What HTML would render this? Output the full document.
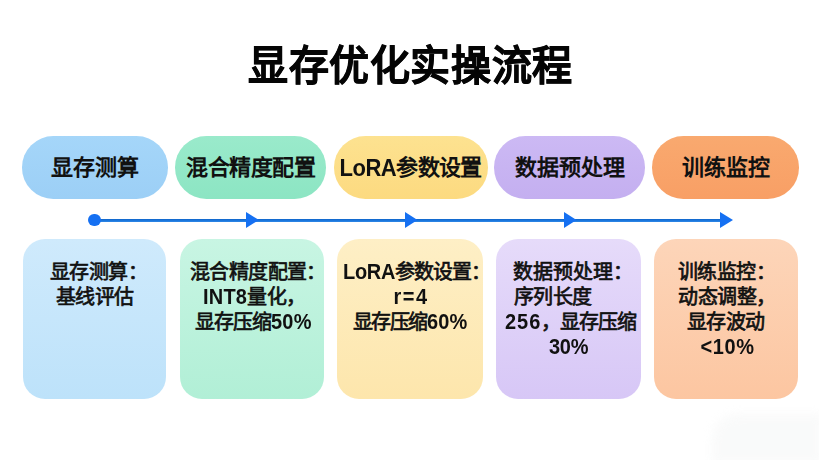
<!DOCTYPE html>
<html lang="zh-CN">
<head>
<meta charset="utf-8">
<style>
html,body{margin:0;padding:0;}
body{width:819px;height:460px;overflow:hidden;background:#fff;position:relative;font-family:"Liberation Sans",sans-serif;color:#111;}
.title{position:absolute;left:1px;width:819px;top:37.5px;text-align:center;font-size:40px;letter-spacing:0.65px;font-weight:700;line-height:56px;transform:scaleY(1.03);transform-origin:50% 50%;color:#050505;-webkit-text-stroke:0.6px #050505;}
.pill{position:absolute;top:136px;height:62.6px;border-radius:31.3px;}
.pt{position:absolute;top:137px;height:62px;line-height:62px;font-size:22px;font-weight:700;white-space:nowrap;-webkit-text-stroke:0;}
.box{position:absolute;top:239px;height:159.5px;border-radius:22px;}
.l{position:absolute;font-size:20px;font-weight:400;line-height:25px;white-space:nowrap;-webkit-text-stroke:0.7px #111;}
.line{position:absolute;left:94px;top:219px;width:628px;height:2.7px;background:linear-gradient(#0f64c8,#1a76dc,#3088e6);}
.dot{position:absolute;left:88.4px;top:214.1px;width:12.4px;height:12.4px;border-radius:50%;background:#1570f2;}
.e{display:inline-block;font-size:20px;font-weight:700;-webkit-text-stroke:0;letter-spacing:0.2px;transform:scaleY(1.12);transform-origin:50% 78%;}
.p{font-style:normal;font-size:20px;font-weight:700;-webkit-text-stroke:0;margin-left:2px;}
</style>
</head>
<body>
<div style="position:absolute;left:712px;top:414px;width:110px;height:50px;border-radius:26px 0 0 0;background:#f6f7f7;filter:blur(5px);opacity:0.6"></div>
<div class="title">显存优化实操流程</div>

<div class="pill" style="left:21.5px;width:146.3px;background:linear-gradient(#a5d6f9,#9ccff6)"></div>
<div class="pill" style="left:175px;width:151.4px;background:linear-gradient(#9aeacb,#8ce5c3)"></div>
<div class="pill" style="left:334px;width:154px;background:linear-gradient(#fde290,#fcda80)"></div>
<div class="pill" style="left:494px;width:151px;background:linear-gradient(#ccb9f4,#c4aff0)"></div>
<div class="pill" style="left:652px;width:146.5px;background:linear-gradient(#f9a96f,#f89f65)"></div>

<div class="pt" style="left:51px">显存测算</div>
<div class="pt" style="left:186px;letter-spacing:-0.4px">混合精度配置</div>
<div class="pt" style="left:339.5px;letter-spacing:-0.6px"><span style="display:inline-block;letter-spacing:-0.5px;transform:scaleY(1.1);transform-origin:50% 62%;position:relative;top:0.8px">LoRA</span>参数设置</div>
<div class="pt" style="left:515px">数据预处理</div>
<div class="pt" style="left:682px">训练监控</div>

<div class="line"></div>
<div class="dot"></div>
<svg style="position:absolute;left:0;top:0" width="819" height="460">
<polygon points="246,212 246,228 259,220" fill="#1570f2"/>
<polygon points="405,212 405,228 417.5,220" fill="#1570f2"/>
<polygon points="564,212 564,228 576.5,220" fill="#1570f2"/>
<polygon points="720,212 720,228 733,220" fill="#1570f2"/>
</svg>

<div class="box" style="left:22.5px;width:143.5px;background:linear-gradient(#cfeafc,#bde2fa)"></div>
<div class="box" style="left:179.5px;width:144.5px;background:linear-gradient(#c8f5e3,#b1efd6)"></div>
<div class="box" style="left:336.8px;width:145.8px;background:linear-gradient(#feefc6,#fde6ac)"></div>
<div class="box" style="left:496.1px;width:144.8px;background:linear-gradient(#e6dbfa,#d7c7f6)"></div>
<div class="box" style="left:653.9px;width:144.1px;background:linear-gradient(#fdd5b9,#fcc6a1)"></div>

<!--LINES-->
<div class="l" style="left:50px;top:259.5px;letter-spacing:-0.6px">显存测算：</div>
<div class="l" style="left:56px;top:284.5px;letter-spacing:-0.6px">基线评估</div>
<div class="l" style="left:190px;top:259.5px;letter-spacing:-0.6px">混合精度配置：</div>
<div class="l" style="left:203px;top:284.5px;letter-spacing:-0.6px"><b class="e">INT8</b>量化，</div>
<div class="l" style="left:195px;top:309.5px;letter-spacing:-1.0px">显存压缩<b class="e">50%</b></div>
<div class="l" style="left:343px;top:259.5px;letter-spacing:-1.0px"><b class="e" style="letter-spacing:-0.3px">LoRA</b>参数设置：</div>
<div class="l" style="left:393.5px;top:284.5px;letter-spacing:0px"><b class="e" style="letter-spacing:1.5px">r=4</b></div>
<div class="l" style="left:352.5px;top:309.5px;letter-spacing:-1.4px">显存压缩<b class="e">60%</b></div>
<div class="l" style="left:513px;top:259.5px;letter-spacing:0px">数据预处理：</div>
<div class="l" style="left:514px;top:284.5px;letter-spacing:-0.6px">序列长度</div>
<div class="l" style="left:505px;top:309.5px;letter-spacing:-1.0px"><b class="e" style="letter-spacing:1px">256</b>，显存压缩</div>
<div class="l" style="left:549px;top:334.5px;letter-spacing:0px"><b class="e" style="letter-spacing:-0.3px">30%</b></div>
<div class="l" style="left:678px;top:259.5px;letter-spacing:-0.6px">训练监控：</div>
<div class="l" style="left:678px;top:284.5px;letter-spacing:-0.4px">动态调整，</div>
<div class="l" style="left:686.8px;top:309.5px;letter-spacing:-0.6px">显存波动</div>
<div class="l" style="left:700.5px;top:334.5px;letter-spacing:0px"><b class="e" style="letter-spacing:0.6px">&lt;10%</b></div>
</body>
</html>
